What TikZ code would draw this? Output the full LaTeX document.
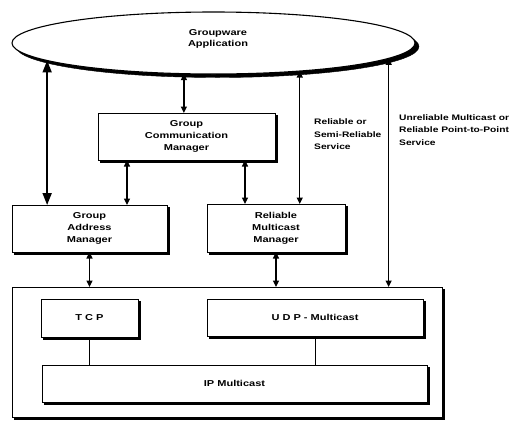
\documentclass[tikz,border=0pt]{standalone}
\usepackage{fontspec}
\setmainfont{Liberation Sans}[FakeStretch=1.28]
\usetikzlibrary{arrows.meta,shapes.geometric,calc}
\tikzset{
  box/.style={draw,line width=1pt,fill=white,inner sep=0pt,outer sep=0pt,
    align=center,font=\fontsize{8.6}{12}\selectfont\bfseries},
  lbl/.style={inner sep=0pt,align=left,font=\fontsize{8}{12.5}\selectfont\bfseries},
  arr/.style={line width=1.2pt,{Triangle[length=6.5pt,width=6pt]}-{Triangle[length=6.5pt,width=6pt]}},
  bigarr/.style={line width=1.9pt,{Triangle[length=12pt,width=9pt]}-{Triangle[length=12pt,width=9pt]}},
  thin/.style={line width=0.6pt},
  shadowline/.style={draw=black,line width=3.2pt,line cap=rect,line join=miter}
}
\begin{document}
\begin{tikzpicture}[x=1pt,y=-1pt]
\useasboundingbox (0,0) rectangle (510,421);
% application ellipse with its shadow
\filldraw[black] (217.5,46.5) ellipse [x radius=201.5pt, y radius=31pt];
\node[ellipse,draw,line width=1.1pt,fill=white,
  minimum width=403pt,minimum height=62pt,inner sep=0pt,outer sep=0pt] (app) at (213.5,43) {};
\node[align=center,inner sep=0pt,font=\fontsize{8.6}{11}\selectfont\bfseries] (apptext) at (218,38.5) {Groupware\\Application};
% managers
\node[box,minimum width=177pt,minimum height=47pt] (gcm) at (186.5,136.5) {Group\\Communication\\Manager};
\draw[shadowline] ($(gcm.north east)+(1.6,3.5)$) -- ($(gcm.south east)+(1.6,1.6)$) -- ($(gcm.south west)+(3.5,1.6)$);
\node[box,minimum width=155pt,minimum height=47pt] (gam) at (89.5,228.5) {Group\\Address\\Manager};
\draw[shadowline] ($(gam.north east)+(1.6,3.5)$) -- ($(gam.south east)+(1.6,1.6)$) -- ($(gam.south west)+(3.5,1.6)$);
\node[box,minimum width=138pt,minimum height=48pt] (rmm) at (276,228) {Reliable\\Multicast\\Manager};
\draw[shadowline] ($(rmm.north east)+(1.6,3.5)$) -- ($(rmm.south east)+(1.6,1.6)$) -- ($(rmm.south west)+(3.5,1.6)$);
% network box
\node[box,minimum width=430pt,minimum height=130pt] (net) at (227,352) {};
\draw[shadowline] ($(net.north east)+(1.6,3.5)$) -- ($(net.south east)+(1.6,1.6)$) -- ($(net.south west)+(3.5,1.6)$);
\node[box,minimum width=97pt,minimum height=38pt] (tcp) at (89.5,318) {T C P};
\draw[shadowline] ($(tcp.north east)+(1.6,3.5)$) -- ($(tcp.south east)+(1.6,1.6)$) -- ($(tcp.south west)+(3.5,1.6)$);
\node[box,minimum width=216pt,minimum height=37pt] (udp) at (315,317.5) {U D P - Multicast};
\draw[shadowline] ($(udp.north east)+(1.6,3.5)$) -- ($(udp.south east)+(1.6,1.6)$) -- ($(udp.south west)+(3.5,1.6)$);
\node[box,minimum width=385pt,minimum height=37pt] (ip) at (234.5,383.5) {IP Multicast};
\draw[shadowline] ($(ip.north east)+(1.6,3.5)$) -- ($(ip.south east)+(1.6,1.6)$) -- ($(ip.south west)+(3.5,1.6)$);
% labels
\node[lbl,anchor=west] (l1) at (314,134.5) {Reliable or\\Semi-Reliable\\Service};
\node[lbl,anchor=west] (l2) at (399,130) {Unreliable Multicast or\\Reliable Point-to-Point\\Service};
% connector start points on the GCM box
\coordinate (g1) at ($(gcm.south west)+(29,0)$);
\coordinate (g2) at ($(gcm.south east)+(-30,0)$);
% connectors
\draw[bigarr] (app.186.1) -- (app.186.1 |- gam.north);
\draw[arr] (app.226.1) -- (app.226.1 |- gcm.north);
\draw[arr] (app.342.75) -- (app.342.75 |- rmm.north);
\draw[arr] (app.355.14) -- (app.355.14 |- net.north);
\draw[arr] (g1) -- (g1 |- gam.north);
\draw[arr] (g2) -- (g2 |- rmm.north);
\draw[arr] (gam.south) -- (gam.south |- net.north);
\draw[arr] (rmm.south) -- (rmm.south |- net.north);
\draw[thin] (tcp.south) -- (tcp.south |- ip.north);
\draw[thin] (udp.south) -- (udp.south |- ip.north);
\end{tikzpicture}
\end{document}
